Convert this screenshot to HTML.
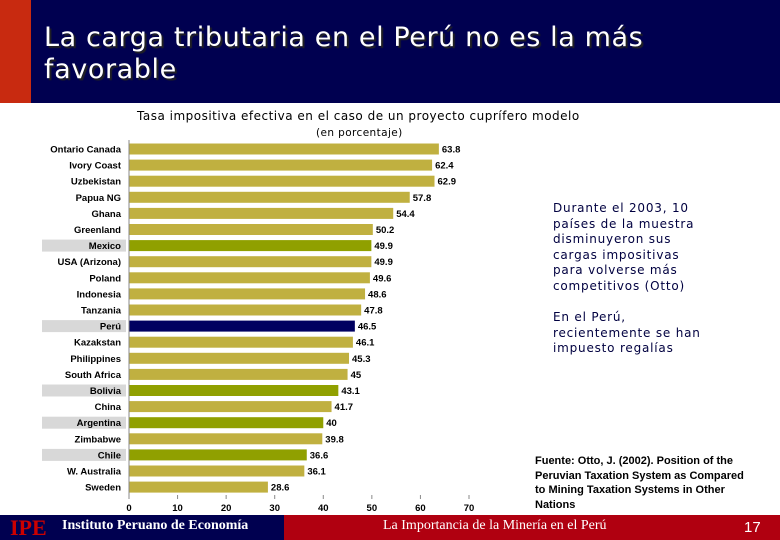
<!DOCTYPE html>
<html><head><meta charset="utf-8"><style>
body{margin:0;width:780px;height:540px;overflow:hidden;background:#fff;font-family:"Liberation Sans",sans-serif;position:relative}
.abs{position:absolute}
</style></head><body>
<div class="abs" style="left:0;top:0;width:31px;height:103px;background:#c82a10"></div>
<div class="abs" style="left:31px;top:0;width:749px;height:103px;background:#000050"></div>
<div class="abs" style="left:44px;top:22px;color:#fff;font-family:'DejaVu Sans',sans-serif;font-size:27px;line-height:32px;letter-spacing:0.6px;text-shadow:2px 2px 1px #222">La carga tributaria en el Perú no es la más<br>favorable</div>
<div class="abs" style="left:137px;top:109px;font-family:'DejaVu Sans',sans-serif;font-size:12px;letter-spacing:0.5px">Tasa impositiva efectiva en el caso de un proyecto cuprífero modelo</div>
<div class="abs" style="left:316px;top:127px;font-family:'DejaVu Sans',sans-serif;font-size:10.5px;letter-spacing:0.4px">(en porcentaje)</div>
<svg class="abs" style="left:0;top:0" width="780" height="540" id="chart"></svg>
<div class="abs" style="left:553px;top:201px;width:160px;font-family:'DejaVu Sans',sans-serif;font-size:12px;line-height:15.6px;letter-spacing:0.8px;color:#000040">Durante el 2003, 10 países de la muestra disminuyeron sus cargas impositivas para volverse más competitivos (Otto)</div>
<div class="abs" style="left:553px;top:310px;width:160px;font-family:'DejaVu Sans',sans-serif;font-size:12px;line-height:15.6px;letter-spacing:0.8px;color:#000040">En el Perú, recientemente se han impuesto regalías</div>
<div class="abs" style="left:535px;top:454px;width:240px;font-size:11px;line-height:14.5px;font-weight:bold;white-space:nowrap">Fuente: Otto, J. (2002). Position of the<br>Peruvian Taxation System as Compared<br>to Mining Taxation Systems in Other<br>Nations</div>
<div class="abs" style="left:0;top:515px;width:284px;height:25px;background:#000050"></div>
<div class="abs" style="left:284px;top:515px;width:496px;height:25px;background:#b00010"></div>
<div class="abs" style="left:10px;top:515px;color:#c00;font-family:'Liberation Serif',serif;font-weight:bold;font-size:22px;line-height:25px">IPE</div>
<div class="abs" style="left:62px;top:518px;color:#fff;font-family:'Liberation Serif',serif;font-weight:bold;font-size:14px">Instituto Peruano de Economía</div>
<div class="abs" style="left:383px;top:518px;color:#fff;font-family:'Liberation Serif',serif;font-size:14px">La Importancia de la Minería en el Perú</div>
<div class="abs" style="left:744px;top:519px;color:#fff;font-size:15px">17</div>
<script>
const categories=["Ontario Canada","Ivory Coast","Uzbekistan","Papua NG","Ghana","Greenland","Mexico","USA (Arizona)","Poland","Indonesia","Tanzania","Perú","Kazakstan","Philippines","South Africa","Bolivia","China","Argentina","Zimbabwe","Chile","W. Australia","Sweden"];
const values=[63.8,62.4,62.9,57.8,54.4,50.2,49.9,49.9,49.6,48.6,47.8,46.5,46.1,45.3,45,43.1,41.7,40,39.8,36.6,36.1,28.6];
const labels=["63.8","62.4","62.9","57.8","54.4","50.2","49.9","49.9","49.6","48.6","47.8","46.5","46.1","45.3","45","43.1","41.7","40","39.8","36.6","36.1","28.6"];
const highlightLatam=["Mexico","Bolivia","Argentina","Chile"];
const highlightPeru=["Perú"];
const ticks=[0,10,20,30,40,50,60,70];
const svg=document.getElementById('chart');const NS="http://www.w3.org/2000/svg";
const x0=129,pxPer=4.857;const X=v=>x0+v*pxPer;
const Y=i=>149+i*16.1;
function mk(t,a){const e=document.createElementNS(NS,t);for(const k in a)e.setAttribute(k,a[k]);svg.appendChild(e);return e;}
categories.forEach((c,i)=>{
 const y=Y(i);
 const hl=highlightLatam.includes(c)||highlightPeru.includes(c);
 if(hl){const b=mk('rect',{x:42,y:y-6,width:84,height:12,fill:'#d8d8d8'});
  
  }
 const col=highlightPeru.includes(c)?'#000060':highlightLatam.includes(c)?'#90a000':'#c0b040';
 const r=mk('rect',{x:X(0),y:y-5.5,width:X(values[i])-X(0),height:11,fill:col});
 
 
 const t=mk('text',{x:121,y:y+3.5,'text-anchor':'end','font-size':'9.5','font-weight':'bold','font-family':'Liberation Sans, sans-serif'});
 t.textContent=c;
 
 
 const v=mk('text',{x:X(values[i])+3,y:y+3.5,'font-size':'9.5','font-weight':'bold','font-family':'Liberation Sans, sans-serif'});
 v.textContent=labels[i];
 
 
});
const ax=mk('line',{x1:x0,y1:140,x2:x0,y2:495,stroke:'#888','stroke-width':1});


ticks.forEach(tv=>{
 const tk=mk('line',{x1:X(tv),y1:495,x2:X(tv),y2:499,stroke:'#888'});
 
 
 const tl=mk('text',{x:X(tv),y:511,'text-anchor':'middle','font-size':'9.5','font-weight':'bold','font-family':'Liberation Sans, sans-serif'});
 tl.textContent=tv;
 
 
});
</script>
</body></html>
